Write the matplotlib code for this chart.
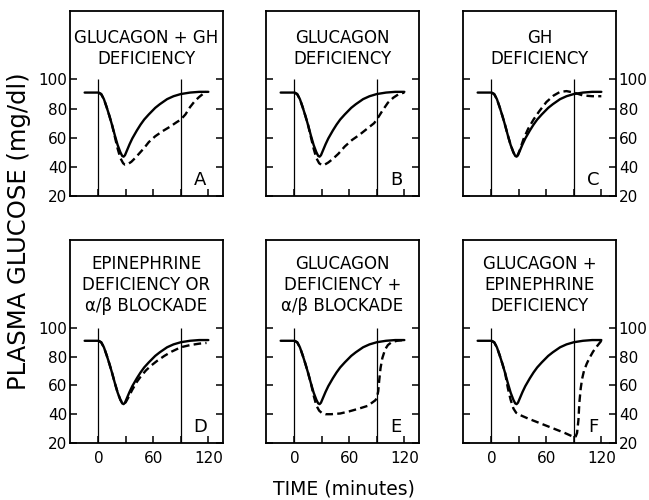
import numpy as np
import matplotlib
matplotlib.use("Agg")
import matplotlib.pyplot as plt

# ---------------------------------------------------------------------------
# data (time in minutes, plasma glucose in mg/dl)
# ---------------------------------------------------------------------------

# control curve (solid), same in every panel
t_ctrl = [-15, 0, 3, 6, 9, 12, 15, 18, 21, 24, 26, 27.5, 29, 31, 34, 37, 42, 46, 50, 55,
          62, 67, 75, 82, 90, 100, 110, 120]
g_ctrl = [91, 91, 90, 86.5, 81, 75, 68.5, 61.5, 55, 50, 47.5, 47, 48, 51, 55.5, 59.5, 65, 69, 72.5, 76,
          80.5, 83, 86.5, 88.5, 90, 91, 91.5, 91.5]

# dashed curves, one per panel
t_A = [0, 3, 6, 9, 12, 15, 18, 21, 24, 27, 29, 32, 36, 40, 45, 50, 55, 62, 70, 78, 85, 90,
       95, 100, 105, 110, 115, 118]
g_A = [91, 90, 86.5, 81, 75, 68.5, 60.5, 52.5, 46, 42.5, 41.5, 41.8, 43.5, 46, 49.5, 53, 57, 61, 64.5, 67.5, 70.5, 72.5,
       76, 81, 85, 88, 90.5, 91.5]

t_B = [0, 3, 6, 9, 12, 15, 18, 21, 24, 27, 30, 33, 37, 42, 48, 55, 63, 71, 80, 87, 91, 96,
       102, 108, 114, 120]
g_B = [91, 90, 86.5, 81, 75, 68.5, 60.5, 52.5, 46, 42.5, 41.2, 41.5, 43, 45.5, 49, 54, 58.5, 62, 66.5, 70, 73.5, 78.5,
       84, 87.5, 90, 91]

t_C = [0, 3, 6, 9, 12, 15, 18, 21, 24, 26, 27.5, 29, 31, 35, 40, 46, 52, 60, 68, 75, 82, 90,
       100, 110, 120]
g_C = [91, 90, 86.5, 81, 75, 68.5, 61.5, 55, 50, 47.5, 47, 48.5, 51.5, 59, 66, 72.5, 78, 84.5, 89, 91.5, 92, 91,
       89, 88.5, 88.5]

t_D = [0, 3, 6, 9, 12, 15, 18, 21, 24, 26, 28, 30, 33, 37, 42, 46, 52, 58, 64, 72, 80, 90,
       100, 110, 118]
g_D = [91, 90, 86.5, 81, 75, 68.5, 61.5, 55, 50, 48, 47, 48.5, 52, 57, 62.5, 66, 70.5, 74, 77, 80.5, 83.5, 86.5,
       88, 89, 89.5]

t_E = [0, 3, 6, 9, 12, 15, 18, 21, 24, 27, 30, 34, 40, 50, 60, 70, 80, 88, 90, 91.5, 92.5,
       94, 96, 99, 102, 106, 112, 120]
g_E = [91, 90, 86.5, 81, 75, 68.5, 61.5, 53, 46, 42.5, 40.8, 40, 40, 40.5, 42, 43.8, 45.8, 49.5, 51, 56, 63,
       72, 79, 85, 88, 90, 91, 91.5]

t_F = [0, 3, 6, 9, 12, 15, 18, 21, 24, 27, 31, 40, 50, 60, 70, 80, 88, 90, 92, 93.5, 95,
       96, 97.5, 99, 101, 104, 107, 111, 115, 120]
g_F = [91, 90, 86.5, 81, 75, 68.5, 58, 50, 44, 41, 39.5, 37, 34.5, 32, 29.5, 27, 24.7, 24, 24.5, 27, 36,
       48, 58, 64.5, 70, 75, 79, 83.5, 87, 91]

titles = ["GLUCAGON + GH\nDEFICIENCY",
          "GLUCAGON\nDEFICIENCY",
          "GH\nDEFICIENCY",
          "EPINEPHRINE\nDEFICIENCY OR\n\u03b1/\u03b2 BLOCKADE",
          "GLUCAGON\nDEFICIENCY +\n\u03b1/\u03b2 BLOCKADE",
          "GLUCAGON +\nEPINEPHRINE\nDEFICIENCY"]
letters = ["A", "B", "C", "D", "E", "F"]
dashed = [(t_A, g_A), (t_B, g_B), (t_C, g_C), (t_D, g_D), (t_E, g_E), (t_F, g_F)]

y_ticks = [20, 40, 60, 80, 100]
x_ticks = [0, 30, 60, 90, 120]
x_ticklabels = ["0", "", "60", "", "120"]

# ---------------------------------------------------------------------------
W, H = 649, 500
fig = plt.figure(figsize=(W / 100, H / 100), dpi=100)
plt.rcParams['font.family'] = ['DejaVu Sans']

# panel boxes in pixels: left, top, right, bottom
boxes = [(70, 11, 223, 196), (266, 11, 419, 196), (463, 11, 616, 196),
         (70, 240, 223, 443), (266, 240, 419, 443), (463, 240, 616, 443)]

for i in range(6):
    l, t, r, b = boxes[i]
    ax = fig.add_axes([l / W, 1 - b / H, (r - l) / W, (b - t) / H])
    top_row = i < 3
    ax.set_xlim(-31, 136)
    ax.set_ylim(20, 147 if top_row else 161)

    ax.plot(t_ctrl, g_ctrl, color='black', lw=1.7, solid_capstyle='round')
    td, gd = dashed[i]
    ax.plot(td, gd, color='black', lw=1.7, dashes=(3.2, 1.8))
    ax.vlines([0, 90], 20, 100, color='black', lw=0.9)

    ax.text(0.5, 0.796 if top_row else 0.778, titles[i], transform=ax.transAxes,
            ha='center', va='center', fontsize=12, linespacing=1.22)
    ax.text(111, 31, letters[i], ha='center', va='center', fontsize=13)

    for s in ax.spines.values():
        s.set_linewidth(1.3)

    ax.set_yticks(y_ticks)
    ax.set_xticks(x_ticks)
    ax.tick_params(axis='both', direction='in', length=5, width=1.1,
                   left=True, right=True, bottom=True, top=False, labelsize=11)
    ax.tick_params(axis='y', pad=2)
    ax.tick_params(axis='x', pad=6)

    if i in (0, 3):
        ax.tick_params(axis='y', labelleft=True, labelright=False)
    elif i in (2, 5):
        ax.tick_params(axis='y', labelleft=False, labelright=True)
    else:
        ax.tick_params(axis='y', labelleft=False, labelright=False)

    if top_row:
        ax.tick_params(axis='x', labelbottom=False)
    else:
        ax.set_xticklabels(x_ticklabels)

fig.text(19 / W, 1 - 231 / H, "PLASMA GLUCOSE (mg/dl)", rotation=90,
         ha='center', va='center', fontsize=17.5)
fig.text(344 / W, 1 - 489 / H, "TIME (minutes)", ha='center', va='center', fontsize=13.5)

fig.savefig("out.png", dpi=100)
